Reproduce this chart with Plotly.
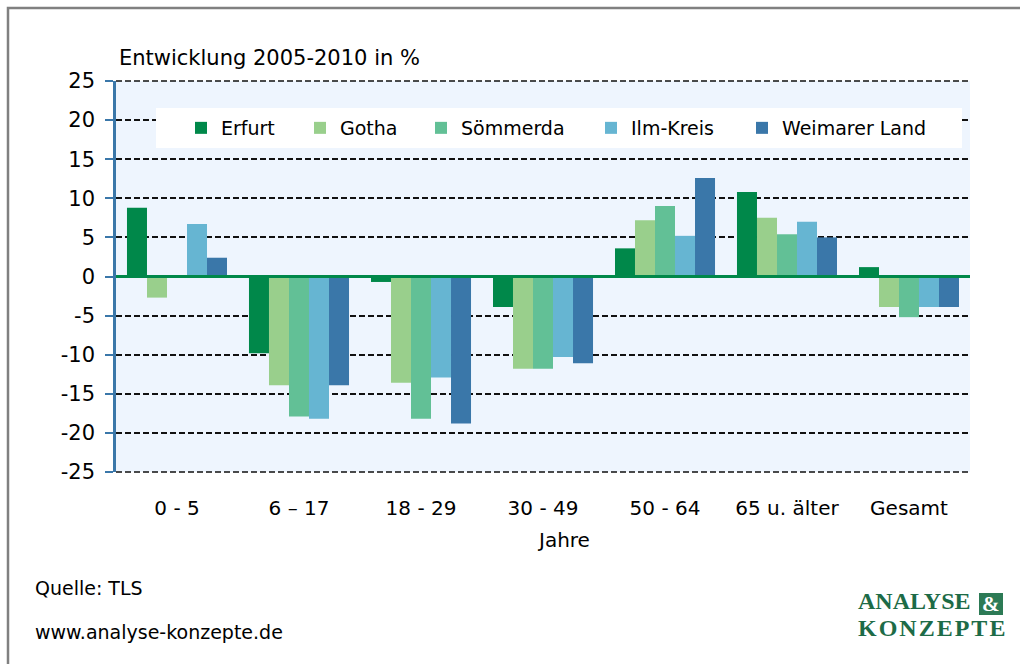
import plotly.graph_objects as go

categories = ["0 - 5", "6 \u2013 17", "18 - 29", "30 - 49", "50 - 64", "65 u. \u00e4lter", "Gesamt"]
series_names = ["Erfurt", "Gotha", "S\u00f6mmerda", "Ilm-Kreis", "Weimarer Land"]
erfurt = [8.8, -9.8, -0.7, -3.9, 3.6, 10.8, 1.2]
gotha = [-2.7, -13.9, -13.6, -11.8, 7.2, 7.5, -3.9]
soemmerda = [0.0, -17.9, -18.2, -11.8, 9.0, 5.4, -5.2]
ilm_kreis = [6.7, -18.2, -12.9, -10.3, 5.2, 7.0, -3.9]
weimarer_land = [2.4, -13.9, -18.8, -11.1, 12.6, 5.0, -3.9]
y_ticks = [25, 20, 15, 10, 5, 0, -5, -10, -15, -20, -25]

values = [erfurt, gotha, soemmerda, ilm_kreis, weimarer_land]
colors = ["#00884A", "#99CF8C", "#62C096", "#66B5D2", "#3A77A9"]
legend_widths = [74, 76, 125, 106, 160]

FONT = "DejaVu Sans"

fig = go.Figure()
for name, vals, col, lw in zip(series_names, values, colors, legend_widths):
    fig.add_trace(go.Bar(
        x=categories, y=vals, name=name,
        marker=dict(color=col, line=dict(width=0)),
        legendwidth=lw,
    ))

# helper: pixel -> paper coords
PL, PR, PT, PB = 116, 970, 81, 472
def px(x):
    return (x - PL) / (PR - PL)
def py(y):
    return (PB - y) / (PB - PT)

GRID = dict(color="#111111", width=1.5, dash="6px,3px")
shapes = [
    # edge grid lines (top/bottom of range)
    dict(type="line", xref="paper", yref="paper", x0=0, x1=1, y0=1, y1=1, line=GRID, layer="below"),
    dict(type="line", xref="paper", yref="paper", x0=0, x1=1, y0=0, y1=0, line=GRID, layer="below"),
    # white legend box
    dict(type="rect", xref="paper", yref="paper", x0=px(156), x1=px(962), y0=py(148), y1=py(108),
         fillcolor="white", line=dict(width=0), layer="above"),
    # zero line
    dict(type="line", xref="paper", yref="y", x0=0, x1=1, y0=0, y1=0,
         line=dict(color="#00884A", width=3), layer="above"),
    # outer frame
    dict(type="rect", xref="paper", yref="paper", x0=px(8), x1=px(1060), y0=py(720), y1=py(8),
         fillcolor="rgba(0,0,0,0)", line=dict(color="#808080", width=2.5), layer="above"),
    # logo "&" box
    dict(type="rect", xref="paper", yref="paper", x0=px(979), x1=px(1003), y0=py(615), y1=py(593),
         fillcolor="#2C7A55", line=dict(width=0), layer="above"),
]

HS = "\u200a"
annotations = [
    dict(text="Entwicklung 2005-2010 in %", xref="paper", yref="paper", x=px(117), y=py(58),
         xanchor="left", yanchor="middle", showarrow=False, font=dict(family=FONT, size=21, color="black")),
    dict(text="Jahre", xref="paper", yref="paper", x=px(563), y=py(540),
         xanchor="center", yanchor="middle", showarrow=False, font=dict(family=FONT, size=20, color="black")),
    dict(text="Quelle: TLS", xref="paper", yref="paper", x=px(33), y=py(588),
         xanchor="left", yanchor="middle", showarrow=False, font=dict(family=FONT, size=19, color="black")),
    dict(text="www.analyse-konzepte.de", xref="paper", yref="paper", x=px(33), y=py(632),
         xanchor="left", yanchor="middle", showarrow=False, font=dict(family=FONT, size=19, color="black")),
    dict(text="<b>ANALYSE</b>", xref="paper", yref="paper", x=px(856), y=py(601),
         xanchor="left", yanchor="middle", showarrow=False,
         font=dict(family="Liberation Serif", size=24, color="#1D6B47")),
    dict(text="<b>&</b>", xref="paper", yref="paper", x=px(991), y=py(604),
         xanchor="center", yanchor="middle", showarrow=False,
         font=dict(family="Liberation Serif", size=21, color="white")),
    dict(text="<b>" + HS.join("KONZEPTE") + "</b>", xref="paper", yref="paper", x=px(856), y=py(628),
         xanchor="left", yanchor="middle", showarrow=False,
         font=dict(family="Liberation Serif", size=24, color="#1D6B47")),
]

fig.update_layout(
    width=1020, height=664,
    margin=dict(l=PL, r=1020 - PR, t=PT, b=664 - PB, pad=0),
    paper_bgcolor="white",
    plot_bgcolor="#EEF5FE",
    barmode="group", bargap=0.18, bargroupgap=0,
    font=dict(family=FONT, size=20, color="black"),
    showlegend=True,
    legend=dict(orientation="h", x=px(181), y=py(128), xanchor="left", yanchor="middle",
                bgcolor="rgba(0,0,0,0)", font=dict(family=FONT, size=19, color="black"),
                traceorder="normal"),
    shapes=shapes,
    annotations=annotations,
)

fig.update_yaxes(
    range=[-25, 25], tickvals=y_ticks, ticktext=[str(v) for v in y_ticks],
    showgrid=True, gridcolor="#111111", gridwidth=1.5, griddash="6px,3px",
    zeroline=False,
    showline=True, linecolor="#3A77A9", linewidth=2.5,
    ticks="outside", ticklen=8, tickwidth=2, tickcolor="#3A77A9",
    ticklabelstandoff=6,
    tickfont=dict(family=FONT, size=21, color="black"),
)
fig.update_xaxes(
    showgrid=False, showline=False, zeroline=False,
    ticks="", ticklabelstandoff=22,
    tickfont=dict(family=FONT, size=20, color="black"),
)

fig.write_html("out.html", config={"displayModeBar": False},
               post_script="document.body.style.margin='0px';document.body.style.overflow='hidden';")
